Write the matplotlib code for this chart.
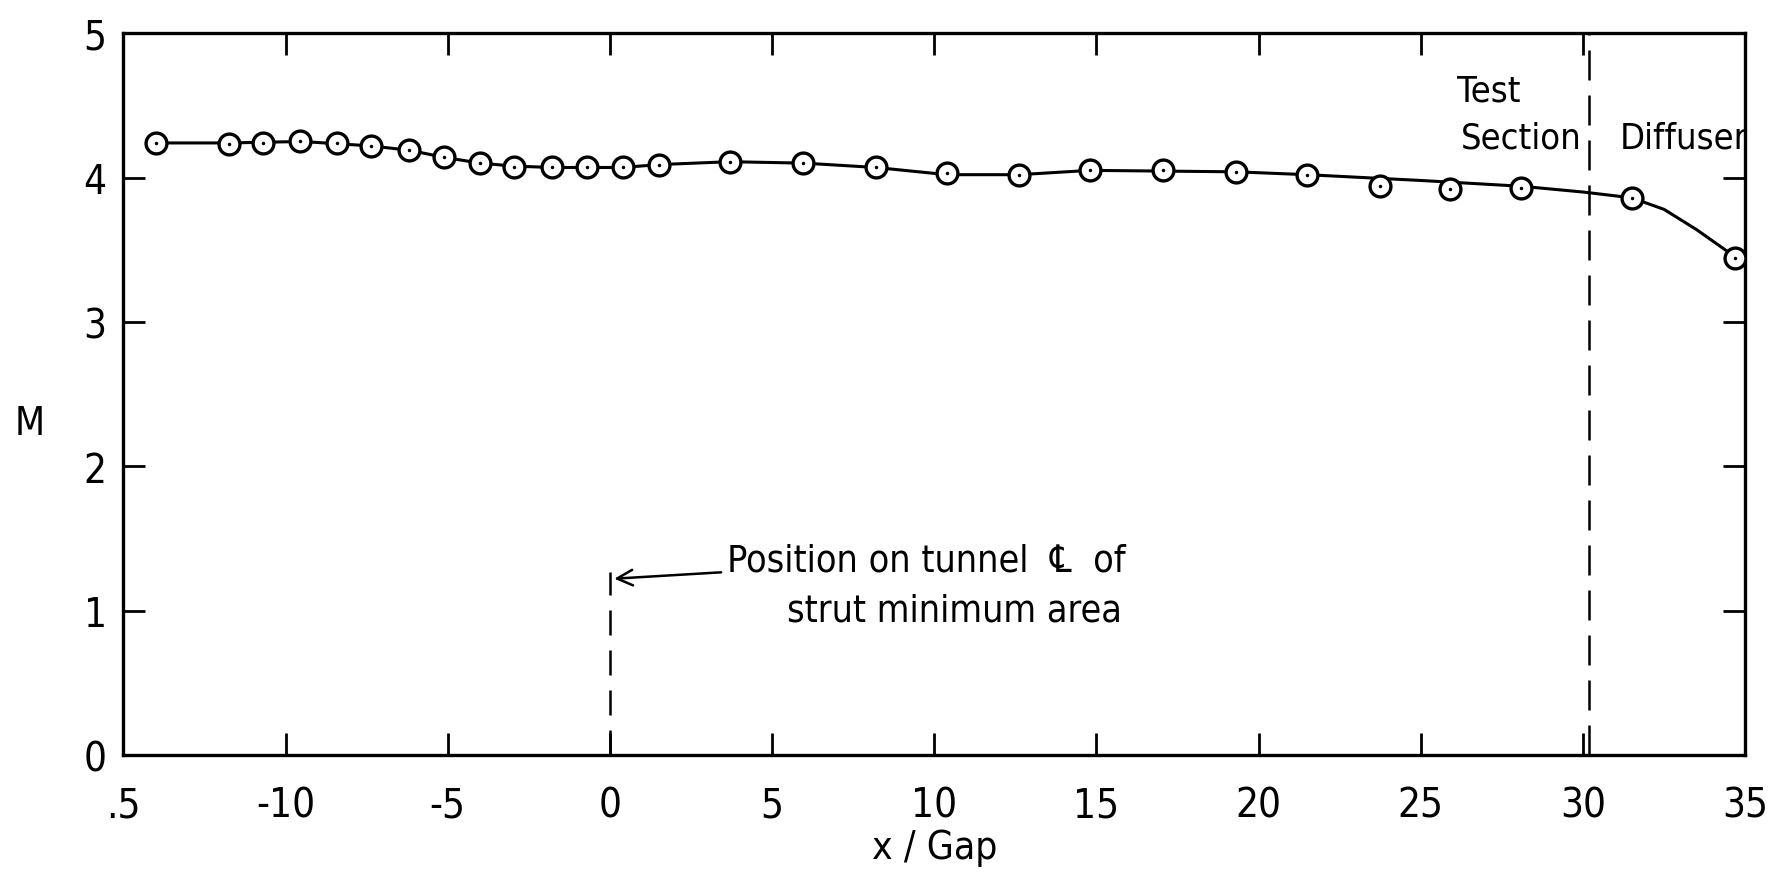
import matplotlib
matplotlib.use("Agg")
from matplotlib import pyplot as plt
from matplotlib import font_manager

# measured Mach number along the tunnel
x_gap = [-14.0, -11.75, -10.7, -9.55, -8.4, -7.35, -6.2, -5.1, -4.0, -2.95,
         -1.8, -0.7, 0.4, 1.5, 3.7, 5.95, 8.2, 10.4, 12.6, 14.8,
         17.05, 19.3, 21.5, 23.75, 25.9, 28.1, 31.5, 34.7]
mach = [4.24, 4.23, 4.24, 4.25, 4.24, 4.22, 4.19, 4.14, 4.10, 4.07,
        4.07, 4.07, 4.07, 4.09, 4.11, 4.10, 4.07, 4.03, 4.02, 4.05,
        4.05, 4.04, 4.02, 3.94, 3.92, 3.93, 3.86, 3.44]

# hand faired curve
fair_x = [-14.0, -11.75, -9.5, -7.4, -6.2, -5.1, -4.0, -3.0, -1.8, 0.4, 1.5,
          3.7, 6.0, 8.2, 10.4, 12.6, 14.8, 19.3, 21.5, 25.0, 28.1, 30.0,
          31.5, 32.5, 33.5, 34.7, 35.0]
fair_m = [4.24, 4.24, 4.25, 4.22, 4.19, 4.14, 4.10, 4.08, 4.07, 4.07, 4.09,
          4.11, 4.10, 4.07, 4.02, 4.02, 4.05, 4.04, 4.02, 3.98, 3.94, 3.90,
          3.86, 3.78, 3.64, 3.45, 3.40]

x_ticks = [-15, -10, -5, 0, 5, 10, 15, 20, 25, 30, 35]
x_tick_labels = [".5", "-10", "-5", "0", "5", "10", "15", "20", "25", "30", "35"]
y_ticks = [0, 1, 2, 3, 4, 5]

# condensed face if there is one
names = {f.name for f in font_manager.fontManager.ttflist}
if 'Liberation Sans Narrow' in names:
    plt.rcParams['font.family'] = ['Liberation Sans Narrow', 'DejaVu Sans']
else:
    plt.rcParams['font.family'] = ['DejaVu Sans']
    plt.rcParams['font.stretch'] = 'condensed'

fig = plt.figure(figsize=(17.88, 8.78), dpi=100)
ax = fig.add_axes([0.069, 0.139, 0.907, 0.822])

ax.plot(fair_x, fair_m, color='black', lw=2.2, zorder=2)
ax.plot(x_gap, mach, 'o', ms=15, mfc='white', mec='black', mew=2.4, zorder=3)
ax.plot(x_gap, mach, '.', ms=3, color='black', zorder=4)

# station lines
ax.plot([0, 0], [0, 1.27], color='black', lw=1.8, dashes=(10, 6))
ax.plot([30.2, 30.2], [0, 5], color='black', lw=1.8, dashes=(12, 6))

ax.annotate("Position on tunnel  \u2104  of", xy=(0.05, 1.22), xytext=(3.6, 1.35),
            fontsize=27, va='center', ha='left',
            arrowprops=dict(arrowstyle='->', color='black', lw=1.8,
                            mutation_scale=28))
ax.text(15.8, 1.0, "strut minimum area", fontsize=27, ha='right', va='center')
ax.text(27.1, 4.6, "Test", fontsize=26, ha='center', va='center')
ax.text(28.1, 4.28, "Section", fontsize=26, ha='center', va='center')
ax.text(33.1, 4.28, "Diffuser", fontsize=26, ha='center', va='center')

ax.set_xlim(-15, 35)
ax.set_ylim(0, 5)
ax.set_xticks(x_ticks)
ax.set_xticklabels(x_tick_labels)
ax.set_yticks(y_ticks)
ax.tick_params(direction='in', length=16, width=2, labelsize=29,
               top=True, right=True)
ax.tick_params(axis='x', pad=22)
ax.tick_params(axis='y', pad=12)
for s in ax.spines.values():
    s.set_linewidth(2.4)

ax.set_xlabel("x / Gap", fontsize=28, labelpad=2)
ax.set_ylabel("M", fontsize=28, rotation=0, va='center', ha='center')
ax.yaxis.set_label_coords(-0.058, 0.46)

fig.savefig("out.png", dpi=100)
